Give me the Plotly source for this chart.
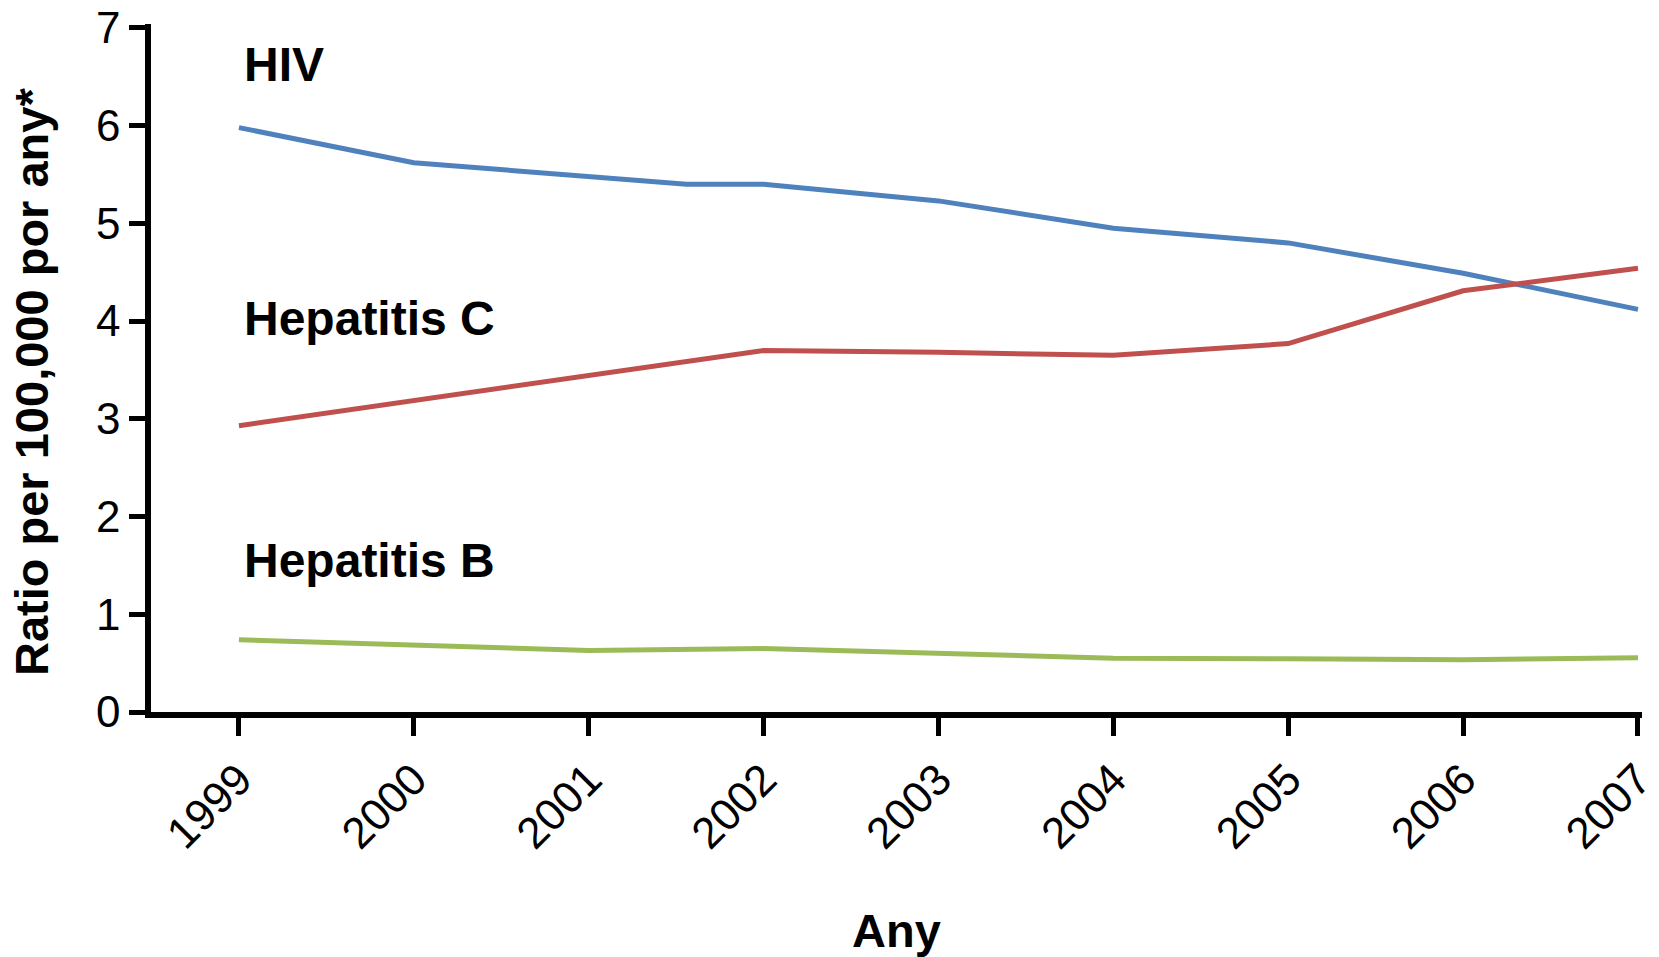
import plotly.graph_objects as go

# Annual rates per 100,000 population, 1999-2007
years = [1999, 2000, 2001, 2002, 2003, 2004, 2005, 2006, 2007]
hiv_years = [1999, 2000, 2001.56, 2002, 2003, 2004, 2005, 2006, 2007]
hiv = [5.98, 5.62, 5.40, 5.40, 5.23, 4.95, 4.80, 4.49, 4.12]
hep_c = [2.93, 3.19, 3.45, 3.70, 3.68, 3.65, 3.77, 4.31, 4.54]
hep_b = [0.74, 0.68, 0.63, 0.65, 0.60, 0.55, 0.545, 0.535, 0.555]

y_ticks = [0, 1, 2, 3, 4, 5, 6, 7]
x_tick_labels = [str(y) for y in years]

series_labels = [
    ("HIV", 6.63),
    ("Hepatitis C", 4.03),
    ("Hepatitis B", 1.555),
]

BLUE = "#4F81BD"
RED = "#C0504D"
GREEN = "#9BBB59"
FONT = "Liberation Sans, Arial, sans-serif"

fig = go.Figure()
fig.add_trace(go.Scatter(x=hiv_years, y=hiv, mode="lines",
                         line=dict(color=BLUE, width=5), name="HIV"))
fig.add_trace(go.Scatter(x=years, y=hep_c, mode="lines",
                         line=dict(color=RED, width=5), name="Hepatitis C"))
fig.add_trace(go.Scatter(x=years, y=hep_b, mode="lines",
                         line=dict(color=GREEN, width=5), name="Hepatitis B"))

for text, yv in series_labels:
    fig.add_annotation(x=1999.016, y=yv, xref="x", yref="y", text=f"<b>{text}</b>",
                       showarrow=False, xanchor="left", yanchor="middle",
                       font=dict(family=FONT, size=48, color="black"))

# vertical axis title
fig.add_annotation(x=-0.0803, y=0.480, xref="paper", yref="paper",
                   text="<b>Ratio per 100,000 por any*</b>", textangle=-90,
                   showarrow=False, xanchor="center", yanchor="middle",
                   font=dict(family=FONT, size=47, color="black"))

fig.update_layout(
    width=1659, height=957,
    margin=dict(l=151, r=17, t=24, b=245, autoexpand=False),
    paper_bgcolor="white", plot_bgcolor="white",
    showlegend=False,
    font=dict(family=FONT, color="black"),
)

fig.update_xaxes(
    range=[1998.497, 2007.023],
    tickmode="array", tickvals=years, ticktext=x_tick_labels,
    tickangle=-45, tickfont=dict(family=FONT, size=44, color="black"),
    ticklabeloverflow="allow",
    ticks="outside", ticklen=18, tickwidth=4.5, tickcolor="black",
    showline=True, linecolor="black", linewidth=5.5,
    showgrid=False, zeroline=False, automargin=False,
    title=dict(text="<b>Any</b>", font=dict(family=FONT, size=47, color="black"),
               standoff=60),
)
fig.update_yaxes(
    range=[0, 7.04],
    tickmode="array", tickvals=y_ticks,
    tickfont=dict(family=FONT, size=44, color="black"),
    ticks="outside", ticklen=16, tickwidth=5, tickcolor="black",
    showline=True, linecolor="black", linewidth=5.5,
    showgrid=False, zeroline=False, automargin=False,
)

fig.write_html("out.html")
